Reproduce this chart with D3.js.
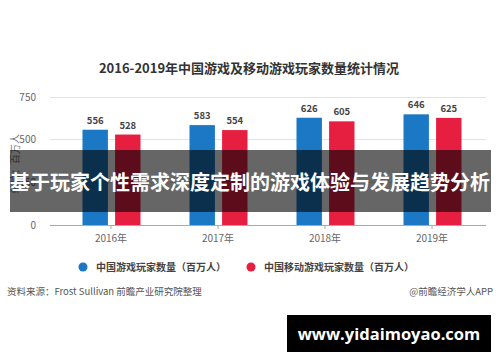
<!DOCTYPE html>
<html>
<head>
<meta charset="utf-8">
<script src="https://cdn.jsdelivr.net/npm/d3@7"></script>
<style>
  body { margin: 0; background: #fff; }
  svg { display: block; font-family: "Noto Sans CJK SC", "Noto Sans", sans-serif; }
</style>
</head>
<body>
<div id="chart"></div>
<script>
// data
const years = ['2016年', '2017年', '2018年', '2019年']
const gamePlayers = [556, 583, 626, 646]
const mobilePlayers = [528, 554, 605, 625]
const yTicks = [0, 250, 500, 750]
const seriesNames = ['中国游戏玩家数量（百万人）', '中国移动游戏玩家数量（百万人）']

const W = 500, H = 362
const blue = '#1b78c4', red = '#e61f41'

const svg = d3.select('#chart').append('svg')
  .attr('width', W).attr('height', H)

svg.append('rect').attr('width', W).attr('height', H).attr('fill', '#fff')

// title
svg.append('text')
  .attr('x', 249).attr('y', 73)
  .attr('text-anchor', 'middle')
  .attr('font-size', 13).attr('font-weight', 'bold').attr('fill', '#333')
  .text('2016-2019年中国游戏及移动游戏玩家数量统计情况')

const x = d3.scaleBand().domain(years).range([57.5, 485.5])
const xSub = d3.scaleBand().domain(['game', 'mobile']).range([25, 83]).paddingInner(0.22)
const y = d3.scaleLinear().domain([0, 750]).range([225, 96.5])

// grid + y labels
const grid = svg.append('g')
grid.selectAll('line').data(yTicks.filter(d => d > 0)).enter().append('line')
  .attr('x1', 50).attr('x2', 486)
  .attr('y1', d => Math.round(y(d)) + 0.5).attr('y2', d => Math.round(y(d)) + 0.5)
  .attr('stroke', '#e3e3e3').attr('stroke-width', 1)

svg.append('g').selectAll('text').data(yTicks).enter().append('text')
  .attr('x', 36).attr('y', d => y(d) + 4)
  .attr('text-anchor', 'end')
  .attr('font-size', 10).attr('fill', '#666')
  .text(d => d)

svg.append('text')
  .attr('transform', 'translate(19,164) rotate(-90)')
  .attr('text-anchor', 'middle')
  .attr('font-size', 10).attr('fill', '#777')
  .text('单位：百万人')

// bars
const rows = years.map((yr, i) => ({ year: yr, game: gamePlayers[i], mobile: mobilePlayers[i] }))
const groups = svg.append('g').selectAll('g').data(rows).enter().append('g')
  .attr('transform', d => `translate(${x(d.year)},0)`)

const keys = [['game', blue], ['mobile', red]]
keys.forEach(([k, c]) => {
  groups.append('rect')
    .attr('x', xSub(k)).attr('width', xSub.bandwidth())
    .attr('y', d => y(d[k])).attr('height', d => y(0) - y(d[k]))
    .attr('fill', c)
  groups.append('text')
    .attr('x', xSub(k) + xSub.bandwidth() / 2)
    .attr('y', d => y(d[k]) - 6)
    .attr('text-anchor', 'middle')
    .attr('font-size', 9.5).attr('font-weight', 'bold').attr('fill', '#444')
    .text(d => d[k])
})

// x axis
const xAxis = svg.append('g')
  .attr('transform', `translate(0,${y(0)})`)
  .call(d3.axisBottom(x).tickSize(4).tickSizeOuter(0))
xAxis.select('.domain').attr('stroke', '#aaa').attr('d', 'M50,0.5H486')
xAxis.selectAll('.tick line').attr('stroke', '#aaa')
xAxis.selectAll('.tick text')
  .attr('font-family', '"Noto Sans CJK SC", sans-serif')
  .attr('font-size', 10).attr('fill', '#666').attr('y', 10)

// legend
const legend = svg.append('g')
const legX = [83, 251]
seriesNames.forEach((name, i) => {
  legend.append('circle').attr('cx', legX[i]).attr('cy', 267).attr('r', 4.5)
    .attr('fill', i === 0 ? blue : red)
  legend.append('text').attr('x', legX[i] + 13).attr('y', 270.5)
    .attr('font-size', 10).attr('font-weight', 'bold').attr('fill', '#444')
    .text(name)
})

// footer
svg.append('text').attr('x', 7).attr('y', 294.5)
  .attr('font-size', 9.5).attr('fill', '#555')
  .text('资料来源：Frost Sullivan 前瞻产业研究院整理')
svg.append('text').attr('x', 493).attr('y', 294.5)
  .attr('text-anchor', 'end')
  .attr('font-size', 9.5).attr('fill', '#555')
  .text('@前瞻经济学人APP')

// overlay banner
svg.append('rect').attr('x', 10).attr('y', 150).attr('width', 481).attr('height', 62)
  .attr('fill', 'rgba(0,0,0,0.6)')
svg.append('text').attr('x', 250).attr('y', 189.5)
  .attr('text-anchor', 'middle')
  .attr('font-size', 20).attr('font-weight', 'bold').attr('fill', '#fff')
  .text('基于玩家个性需求深度定制的游戏体验与发展趋势分析')

// url box
svg.append('rect').attr('x', 287).attr('y', 315).attr('width', 204).attr('height', 37)
  .attr('fill', '#000')
svg.append('text').attr('x', 389).attr('y', 340)
  .attr('text-anchor', 'middle')
  .attr('font-family', '"Open Sans", sans-serif')
  .attr('font-size', 16.5).attr('font-weight', 'bold').attr('fill', '#fff')
  .text('www.yidaimoyao.com')
</script>
</body>
</html>
